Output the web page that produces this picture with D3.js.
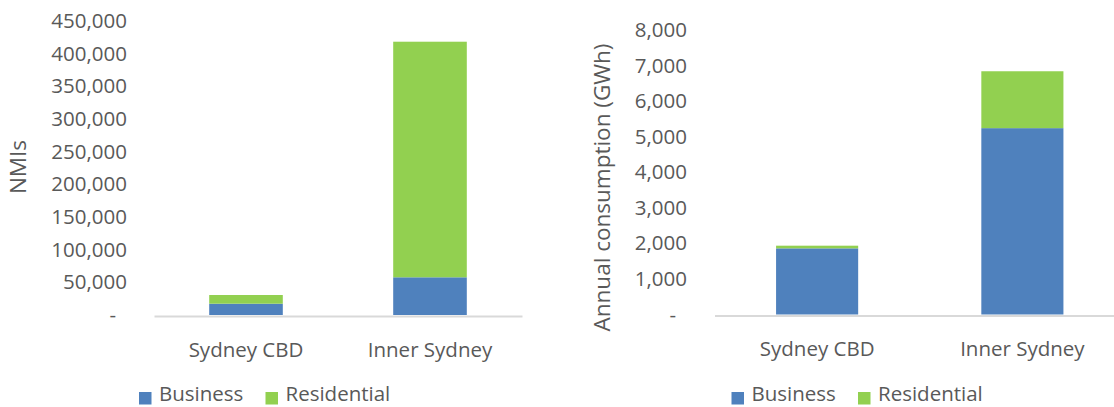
<!DOCTYPE html>
<html>
<head>
<meta charset="utf-8">
<script src="https://cdn.jsdelivr.net/npm/d3@7"></script>
<style>
    body { margin: 0; background: #fff; }
    svg text { font-family: "Open Sans", sans-serif; fill: #595959; }
</style>
</head>
<body>
<div id="container"></div>
<script>
const width = 1114;
const height = 407;

// DATA
const categories = ["Sydney CBD", "Inner Sydney"];
const seriesNames = ["Business", "Residential"];
const nmiBusiness = [17300, 57700];
const nmiResidential = [13300, 360600];
const gwhBusiness = [1860, 5240];
const gwhResidential = [75, 1600];
const nmiTicks = [0, 50000, 100000, 150000, 200000, 250000, 300000, 350000, 400000, 450000];
const gwhTicks = [0, 1000, 2000, 3000, 4000, 5000, 6000, 7000, 8000];

const color = d3.scaleOrdinal().domain(seriesNames).range(["#4F81BD", "#92D050"]);

const svg = d3.select("div#container").append("svg")
    .attr("width", width)
    .attr("height", height);

function makeRows(business, residential) {
    return categories.map(function (c, i) {
        return { category: c, Business: business[i], Residential: residential[i] };
    });
}

function drawPanel(p) {
    const g = svg.append("g");

    // SCALES
    const xScale = d3.scaleBand()
        .domain(categories)
        .range([p.left, p.right])
        .paddingInner(0.6)
        .paddingOuter(0.3);

    const yScale = d3.scaleLinear()
        .domain([0, d3.max(p.ticks)])
        .range([p.zero, p.top]);

    const stacked = d3.stack().keys(seriesNames)(p.rows);

    // BARS
    g.selectAll("g.series")
        .data(stacked)
        .enter()
        .append("g")
        .attr("class", "series")
        .attr("fill", function (d) { return color(d.key); })
        .selectAll("rect")
        .data(function (d) { return d; })
        .enter()
        .append("rect")
        .attr("x", function (d) { return xScale(d.data.category); })
        .attr("width", xScale.bandwidth())
        .attr("y", function (d) { return yScale(d[1]); })
        .attr("height", function (d) { return yScale(d[0]) - yScale(d[1]); });

    // AXES
    const yaxis = d3.axisLeft(yScale)
        .tickValues(p.ticks)
        .tickSize(0)
        .tickPadding(p.left - p.labelRight)
        .tickFormat(function (d) { return d === 0 ? "-" : d3.format(",")(d); });

    const ya = g.append("g")
        .attr("transform", "translate(" + p.left + ",0)")
        .call(yaxis);
    ya.select(".domain").remove();
    ya.selectAll("text")
        .style("font-size", "20.5px")
        .attr("dx", function (d) { return d === 0 ? -11 : 0; });

    const xaxis = d3.axisBottom(xScale).tickSize(0).tickSizeOuter(0).tickPadding(26);
    const xa = g.append("g")
        .attr("transform", "translate(0," + p.axisY + ")")
        .call(xaxis);
    xa.select(".domain").attr("stroke", "#D9D9D9").attr("stroke-width", 2);
    xa.selectAll("text").style("font-size", "20.5px");

    // TITLE
    g.append("text")
        .attr("transform", "translate(" + p.titleX + "," + p.titleY + ") rotate(-90)")
        .attr("text-anchor", "middle")
        .style("font-size", "22.5px")
        .text(p.title);

    // LEGEND
    const leg = g.selectAll("g.legend")
        .data(seriesNames)
        .enter()
        .append("g")
        .attr("class", "legend")
        .attr("transform", function (d, i) {
            return "translate(" + p.legendX[i] + "," + p.legendY + ")";
        });
    leg.append("rect")
        .attr("x", 0)
        .attr("y", -4)
        .attr("width", 12.5)
        .attr("height", 12.5)
        .attr("fill", function (d) { return color(d); });
    leg.append("text")
        .attr("x", 20)
        .attr("y", 5)
        .style("font-size", "20.5px")
        .text(function (d) { return d; });
}

drawPanel({
    rows: makeRows(nmiBusiness, nmiResidential),
    ticks: nmiTicks,
    left: 154, right: 522, zero: 315, top: 21, axisY: 316,
    labelRight: 127,
    title: "NMIs", titleX: 26, titleY: 167,
    legendX: [139, 265.5], legendY: 396
});

drawPanel({
    rows: makeRows(gwhBusiness, gwhResidential),
    ticks: gwhTicks,
    left: 714.5, right: 1125, zero: 314.5, top: 30, axisY: 315.5,
    labelRight: 687,
    title: "Annual consumption (GWh)", titleX: 610, titleY: 187.5,
    legendX: [731.5, 858], legendY: 396
});
</script>
</body>
</html>
